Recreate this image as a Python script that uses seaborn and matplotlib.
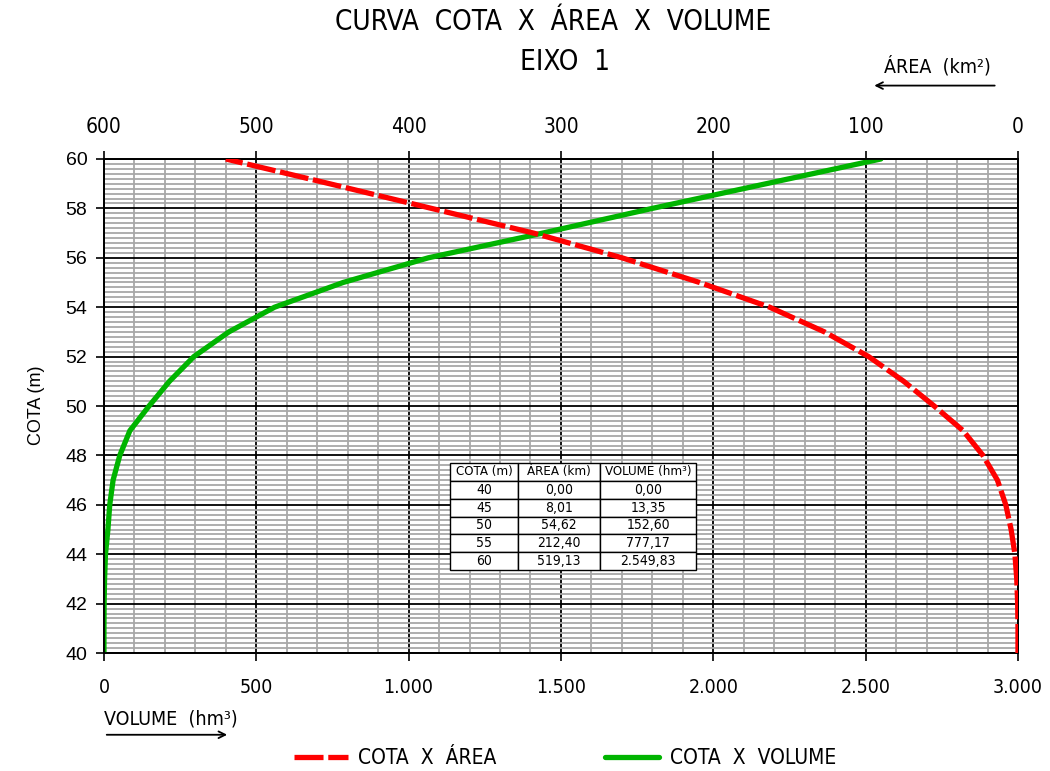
import matplotlib
matplotlib.use('Agg')
import numpy as np
import pandas as pd
import matplotlib.pyplot as plt
from matplotlib.ticker import MultipleLocator, FuncFormatter
import seaborn as sns

sns.set_theme(style='white')
plt.rcParams['font.family'] = ['DejaVu Sans']
plt.rcParams['font.stretch'] = 'condensed'
plt.rcParams['text.color'] = 'black'
plt.rcParams['xtick.color'] = 'black'
plt.rcParams['ytick.color'] = 'black'

# curve values
cota = [40, 41, 42, 43, 44, 45, 46, 47, 48, 49, 50,
        51, 52, 53, 54, 55, 56, 57, 58, 59, 60]
area = [0, 0, 0.2, 0.8, 2, 4.5, 8, 13.5, 23, 36, 55,
        75, 98, 127, 163, 209, 260, 318, 385, 452, 520]
volume = [0, 0, 0.5, 2, 5, 13, 19, 30, 52, 85, 148,
          215, 295, 410, 560, 785, 1065, 1440, 1800, 2174, 2550]

# table values
tab_cota = [40, 45, 50, 55, 60]
tab_area = [0.00, 8.01, 54.62, 212.40, 519.13]
tab_volume = [0.00, 13.35, 152.60, 777.17, 2549.83]
tab_header = ['COTA (m)', 'ÁREA (km)', 'VOLUME (hm³)']

df = pd.DataFrame({'cota': cota, 'area': area, 'volume': volume})


def br(v, dec=2):
    s = f'{v:,.{dec}f}'
    return s.replace(',', 'X').replace('.', ',').replace('X', '.')


fig = plt.figure(figsize=(10.5, 7.71), dpi=100)
ax = fig.add_axes([0.099, 0.153, 0.8705, 0.6408])

# grid
ax.set_xlim(0, 3000)
ax.set_ylim(40, 60)
ax.xaxis.set_major_locator(MultipleLocator(500))
ax.xaxis.set_minor_locator(MultipleLocator(100))
ax.yaxis.set_major_locator(MultipleLocator(2))
ax.yaxis.set_minor_locator(MultipleLocator(0.2))
ax.grid(which='minor', color='#a8a8a8', lw=1.3)
ax.grid(which='major', color='black', lw=1.3)
ax.set_axisbelow(True)
ax.xaxis.set_major_formatter(FuncFormatter(lambda v, p: br(v, 0)))

sns.lineplot(data=df, x='volume', y='cota', orient='y', estimator=None,
             color='#00b400', lw=3.8, ax=ax, label='COTA X VOLUME',
             legend=False, zorder=5)

ax2 = ax.twiny()
ax2.set_xlim(600, 0)
ax2.xaxis.set_major_locator(MultipleLocator(100))
sns.lineplot(data=df, x='area', y='cota', orient='y', estimator=None,
             color='#ff0000', lw=3.8, ax=ax2, label='COTA X ÁREA',
             legend=False, zorder=5)
ax2.lines[0].set_dashes([5.5, 0.9])
ax2.set_ylim(40, 60)

for a in (ax, ax2):
    a.set_xlabel('')
    a.set_ylabel('')
    for s in a.spines.values():
        s.set_color('black')
        s.set_linewidth(1.3)

ax.tick_params(which='major', direction='out', length=6, width=1.2,
               color='black', labelsize=14, bottom=True, left=True, pad=12)
ax.tick_params(axis='y', which='major', pad=6)
ax.tick_params(which='minor', length=0)
ax2.tick_params(which='major', direction='out', length=6, width=1.2,
                color='black', labelsize=15, top=True, pad=10)
for t in ax.get_yticklabels():
    t.set_family(['Liberation Sans', 'DejaVu Sans'])
    t.set_stretch('normal')

fig.text(0.035, 0.475, 'COTA (m)', rotation=90, ha='center', va='center',
         fontsize=13, family=['Liberation Sans', 'DejaVu Sans'])

# table
cells = [[str(c), br(a), br(v)] for c, a, v in zip(tab_cota, tab_area, tab_volume)]
tb = ax.table(cellText=cells, colLabels=tab_header, cellLoc='center',
              bbox=[0.3786, 0.168, 0.2694, 0.2166], zorder=4)
tb.auto_set_font_size(False)
tb.set_fontsize(10)
for (r, c), cell in tb.get_celld().items():
    cell.set_edgecolor('black')
    cell.set_linewidth(1.0)
    cell.set_facecolor('white')
    if r == 0:
        cell.get_text().set_fontsize(9.5)
for c, w in enumerate([68, 82, 96]):
    for r in range(6):
        tb[r, c].set_width(w / 914)

# titles and axis names
fig.text(0.527, 0.972, 'CURVA  COTA  X  ÁREA  X  VOLUME', ha='center',
         va='center', fontsize=20)
fig.text(0.538, 0.919, 'EIXO  1', ha='center', va='center', fontsize=20)
fig.text(0.893, 0.914, 'ÁREA  (km²)', ha='center', va='center', fontsize=14)
ax.annotate('', xy=(0.830, 0.889), xytext=(0.950, 0.889),
            xycoords='figure fraction',
            arrowprops=dict(arrowstyle='->', color='black', lw=1.3))
fig.text(0.163, 0.068, 'VOLUME  (hm³)', ha='center', va='center', fontsize=14)
ax.annotate('', xy=(0.219, 0.047), xytext=(0.099, 0.047),
            xycoords='figure fraction',
            arrowprops=dict(arrowstyle='->', color='black', lw=1.3))

# legend
handles = ax2.get_lines()[:1] + ax.get_lines()[-1:]
leg = fig.legend(handles=handles, labels=['COTA  X  ÁREA', 'COTA  X  VOLUME'],
                 loc='center', bbox_to_anchor=(0.538, 0.017), ncol=2,
                 frameon=False, fontsize=15, handlelength=2.6,
                 handletextpad=0.5, columnspacing=5.2)

fig.savefig('out.png', dpi=100)
